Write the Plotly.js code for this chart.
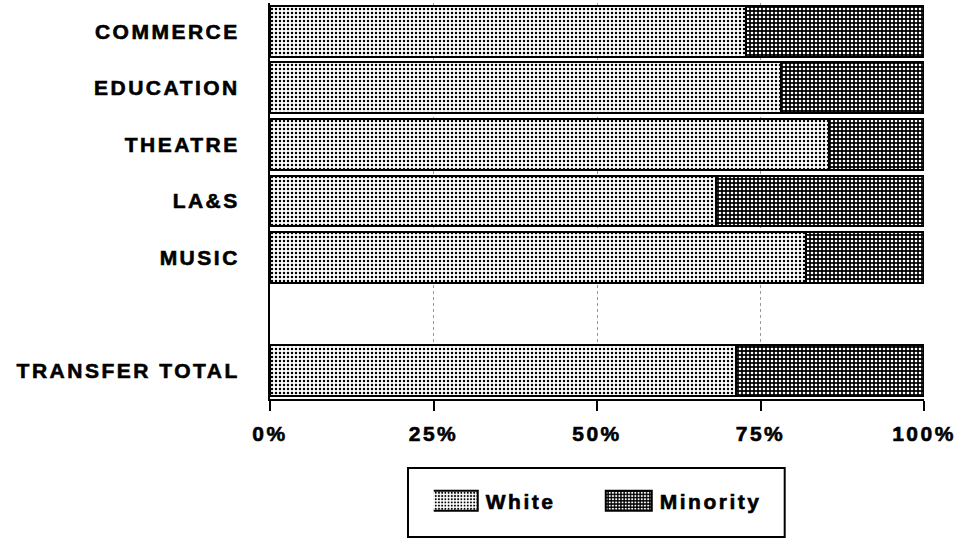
<!DOCTYPE html>
<html>
<head>
<meta charset="utf-8">
<script src="https://cdn.plot.ly/plotly-3.0.1.min.js"></script>
<style>
  html, body { margin: 0; padding: 0; background: #fff; }
  #chart { width: 963px; height: 539px; }
  .ytick text, .xtick text, .legendtext { letter-spacing: 2.5px; stroke: #000; stroke-width: 0.6px; }
</style>
</head>
<body>
<div id="chart"></div>
<script>
// Categories, top to bottom (the blank spacer row separates the total)
const categories = ["COMMERCE", "EDUCATION", "THEATRE", "LA&S", "MUSIC", "\u00a0", "TRANSFER TOTAL"];
// Percentage shares
const whitePct    = [72.8, 78.1, 85.5, 68.2, 82.0, null, 71.3];
const minorityPct = [27.2, 21.9, 14.5, 31.8, 18.0, null, 28.7];
const xTickVals   = [0, 25, 50, 75, 100];
const xTickText   = ["0%", "25%", "50%", "75%", "100%"];

const font = { family: "Liberation Sans, Arial, sans-serif", size: 21, color: "#000", weight: "bold" };

const traces = [
  {
    type: "bar", orientation: "h", name: "White",
    y: categories, x: whitePct, width: 0.9,
    marker: {
      color: "#ffffff",
      line: { color: "#000", width: 2 },
      pattern: { shape: ".", bgcolor: "#ffffff", fgcolor: "#000000", size: 4, solidity: 0.3, fillmode: "replace" }
    },
    hoverinfo: "skip"
  },
  {
    type: "bar", orientation: "h", name: "Minority",
    y: categories, x: minorityPct, width: 0.9,
    marker: {
      color: "#000000",
      line: { color: "#000", width: 2 },
      pattern: { shape: ".", bgcolor: "#000000", fgcolor: "#ffffff", size: 4, solidity: 0.35, fillmode: "replace" }
    },
    hoverinfo: "skip"
  }
];

const layout = {
  width: 963, height: 539,
  margin: { l: 270, r: 39, t: 3, b: 140 },
  paper_bgcolor: "#fff", plot_bgcolor: "#fff",
  barmode: "stack",
  showlegend: true,
  font: font,
  xaxis: {
    range: [0, 100], tickvals: xTickVals, ticktext: xTickText,
    showline: true, linecolor: "#000", linewidth: 2, mirror: false,
    ticks: "outside", ticklen: 10, tickwidth: 2, tickcolor: "#000",
    showgrid: true, gridcolor: "#9a9a9a", gridwidth: 1, griddash: "dot",
    zeroline: false, tickfont: font, ticklabelstandoff: 5, fixedrange: true
  },
  yaxis: {
    type: "category", categoryorder: "array", categoryarray: categories,
    autorange: "reversed",
    showline: true, linecolor: "#000", linewidth: 2,
    ticks: "", showgrid: false, zeroline: false,
    tickfont: font, ticklabelstandoff: 24, fixedrange: true
  },
  legend: {
    orientation: "h", x: 0.2504, xanchor: "left", y: -0.258, yanchor: "middle",
    traceorder: "normal", font: font, bgcolor: "rgba(0,0,0,0)", borderwidth: 0,
    itemwidth: 42, entrywidth: 117, entrywidthmode: "pixels", itemclick: false, itemdoubleclick: false
  },
  shapes: [
    { type: "rect", xref: "paper", yref: "paper", x0: 0.211, x1: 0.787, y0: -0.3485, y1: -0.1742,
      line: { color: "#000", width: 2 }, fillcolor: "rgba(0,0,0,0)" }
  ]
};

Plotly.newPlot("chart", traces, layout, { staticPlot: true, displayModeBar: false }).then(function (gd) {
  // enlarge the legend swatches to the wide rectangles of the reference
  gd.querySelectorAll(".legend .legendpoints path").forEach(function (p) {
    p.setAttribute("d", "M18,10H-28V-10H18Z");
  });
});
</script>
</body>
</html>
